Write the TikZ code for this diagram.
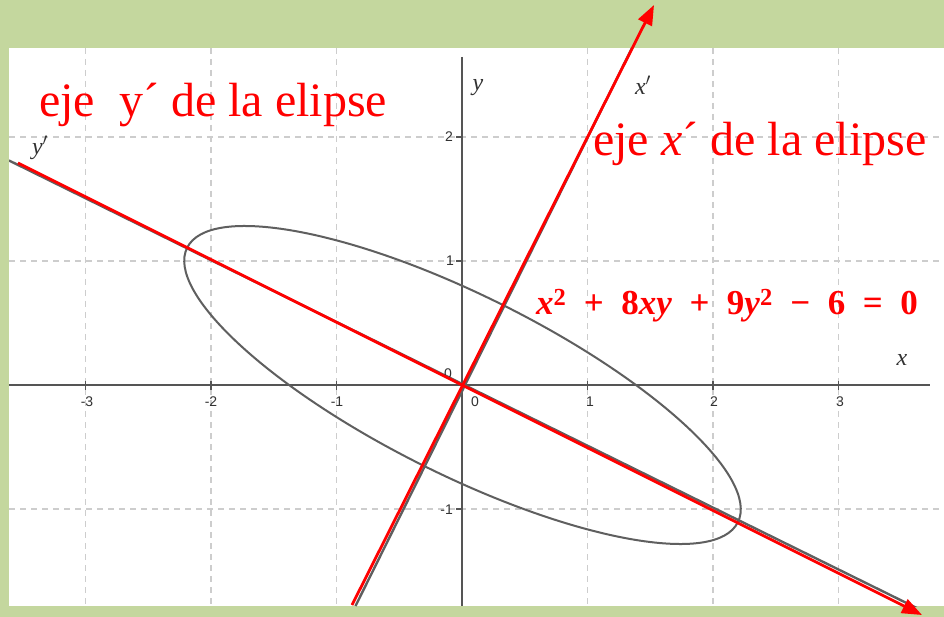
\documentclass[tikz,border=0pt]{standalone}
\usepackage{fontspec}
\setmainfont{Liberation Serif}
\setsansfont{Liberation Sans}
\usetikzlibrary{arrows.meta}
\definecolor{bggreen}{RGB}{196,215,158}
\definecolor{gridgray}{RGB}{205,205,205}
\definecolor{axisgray}{RGB}{85,85,85}
\definecolor{curvegray}{RGB}{95,95,95}
\definecolor{labelgray}{RGB}{50,50,50}
\newcommand{\eqop}[1]{\hspace{0.5em}#1\hspace{0.5em}}
\newcommand{\eqv}[1]{\textit{#1}}
\newcommand{\myeq}{\bfseries\eqv{x}\textsuperscript{2}\eqop{+}8\eqv{xy}\eqop{+}9\eqv{y}\textsuperscript{2}\eqop{−}6\eqop{=}0}
\newcommand{\acu}{\symbol{"00B4}}
\begin{document}
\begin{tikzpicture}[x=1pt,y=-1pt,
  gridline/.style={gridgray, line width=1.3pt, dash pattern=on 6pt off 5pt},
  axisline/.style={axisgray, line width=1.6pt},
  tickline/.style={axisgray, line width=1.2pt},
  ticklbl/.style={font=\sffamily\fontsize{14}{14}\selectfont, text=labelgray, inner sep=0pt},
  axlbl/.style={font=\itshape\fontsize{24}{24}\selectfont, text=labelgray, inner sep=0pt},
  redaxis/.style={red, line width=2.8pt, -{Triangle[length=20pt,width=15pt]}},
  grayaxis/.style={curvegray, line width=2.4pt},
  curve/.style={curvegray, line width=2pt},
  redlbl/.style={text=red, inner sep=0pt, anchor=base west, font=\fontsize{48}{48}\selectfont},
  eqlbl/.style={text=red, inner sep=0pt, anchor=base west, font=\fontsize{35}{35}\selectfont}]

\useasboundingbox (0,0) rectangle (944,617);
\fill[bggreen] (0,0) rectangle (944,617);
\fill[white] (9,48) rectangle (944,606);

\begin{scope}
  \clip (9,48) rectangle (944,606);
  \foreach \gx in {85.5,211,336.5,587.5,713,838.5}
    \draw[gridline] (\gx,48) -- (\gx,606);
  \foreach \gy in {137,261,509}
    \draw[gridline] (9,\gy) -- (944,\gy);
  \coordinate (xa1) at (9,385);
  \coordinate (xa2) at (930,385);
  \coordinate (ya1) at (462,57);
  \coordinate (ya2) at (462,606);
  \draw[axisline] (xa1) -- (xa2);
  \draw[axisline] (ya1) -- (ya2);
  \foreach \gx in {85.5,211,336.5,587.5,713,838.5}
    \draw[tickline] (\gx,381) -- (\gx,390);
  \foreach \gy in {137,261,509}
    \draw[tickline] (456,\gy) -- (462,\gy);
  \coordinate (gy1) at (9,160.5);
  \coordinate (gy2) at (944,621.5);
  \coordinate (gx1) at (355.5,606);
  \coordinate (gx2) at (632,48);
  \draw[grayaxis] (gy1) -- (gy2);
  \draw[grayaxis] (gx1) -- (gx2);
  \draw[curve, rotate around={-26.5:(462.5,385)}] (462.5,385) ellipse [x radius=307.7pt, y radius=89.6pt];
\end{scope}

\node[ticklbl] (tm3) at (87,402) {-3};
\node[ticklbl] (tm2) at (211,402) {-2};
\node[ticklbl] (tm1) at (337,402) {-1};
\node[ticklbl] (t0x) at (475,402) {0};
\node[ticklbl] (tp1) at (590,402) {1};
\node[ticklbl] (tp2) at (714,402) {2};
\node[ticklbl] (tp3) at (840,402) {3};
\node[ticklbl, anchor=east] (ty2) at (453,137) {2};
\node[ticklbl, anchor=east] (ty1) at (454,261) {1};
\node[ticklbl, anchor=east] (tym1) at (453,510) {-1};
\node[ticklbl] (t0y) at (448,374) {0};

\node[axlbl] (ny) at (478,88) {y};
\node[axlbl] (nx) at (902,360) {x};
\node[axlbl] (nxp) at (643,85) {x$'$};
\node[axlbl] (nyp) at (40,148) {y$'$};

\coordinate (yps) at (18,163);
\coordinate (ype) at (922,615);
\coordinate (xps) at (352,605);
\coordinate (xpe) at (654,5);
\draw[redaxis] (yps) -- (ype);
\draw[redaxis] (xps) -- (xpe);

\node[redlbl] (ly) at (39,117) {eje~~y\acu{} de la elipse};
\node[redlbl] (lx) at (593,156) {eje \textit{x}\acu{} de la elipse};
\node[eqlbl] (eqn) at (536,315) {\myeq};
\end{tikzpicture}
\end{document}
